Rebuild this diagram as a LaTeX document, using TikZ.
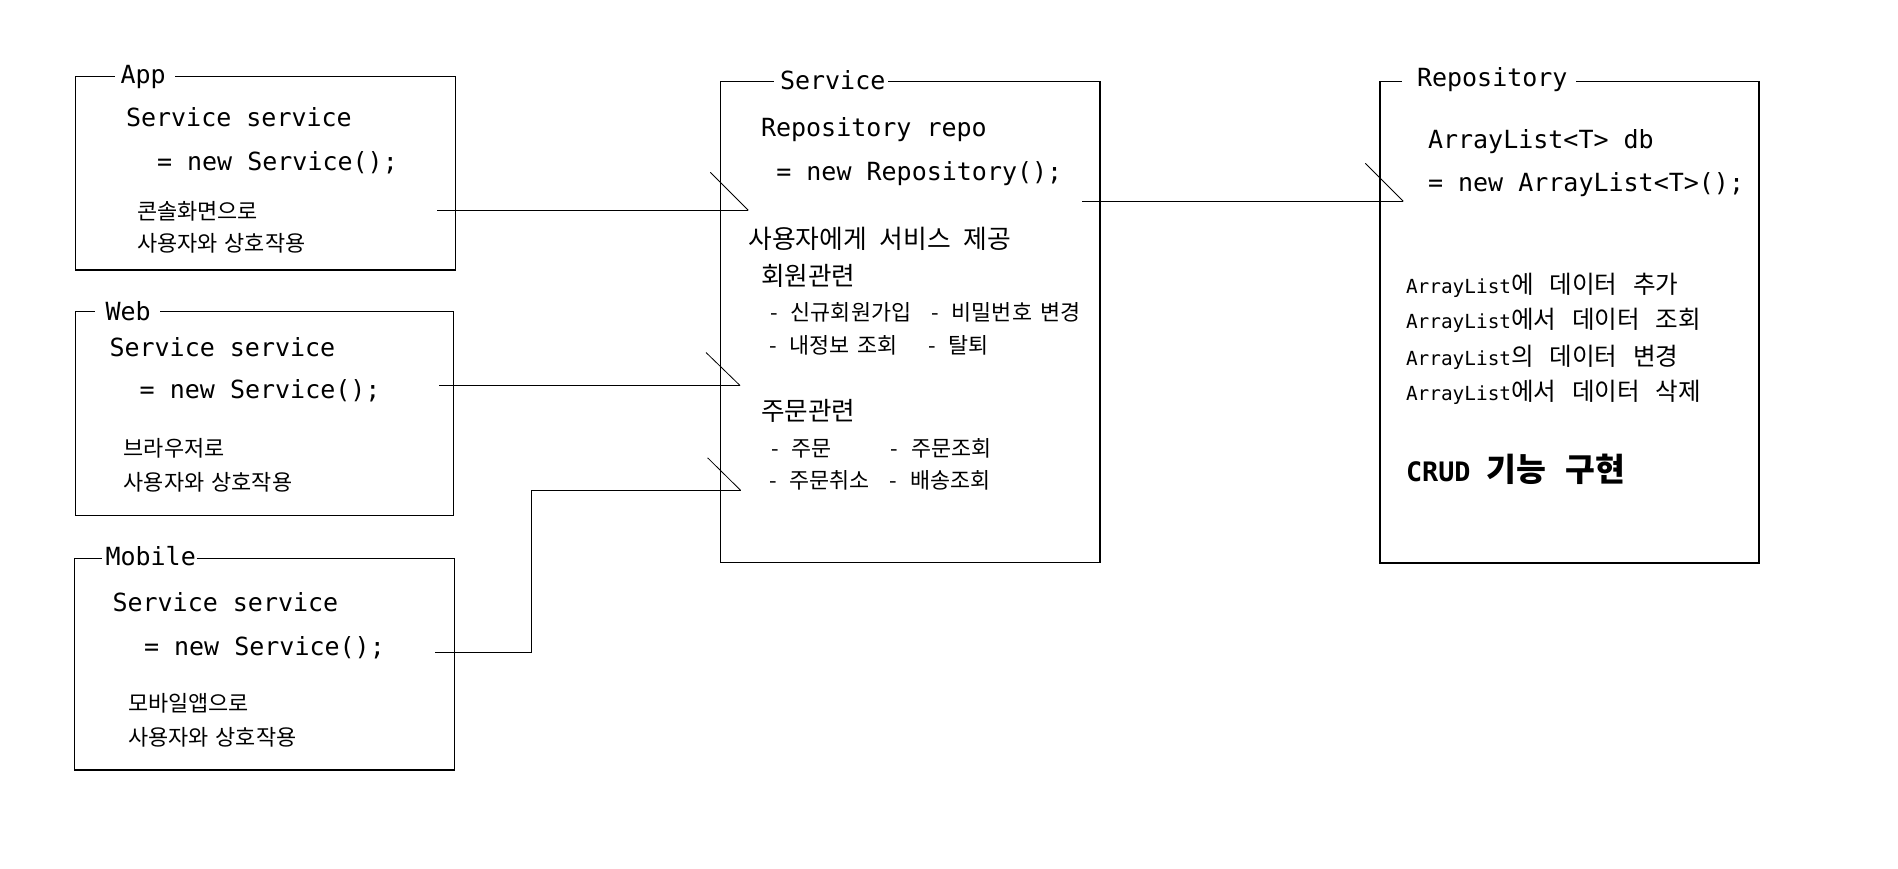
\documentclass[tikz,border=0pt]{standalone}
\usepackage{fontspec}
\newfontfamily\mono{DejaVu Sans Mono}
\newfontfamily\krf{Noto Sans CJK KR}
\newcommand\fsz[1]{\fontsize{#1}{#1}\selectfont}
\newcommand\codefont{\mono\fsz{12.5}}
\newcommand\kgap[1]{\hspace*{#1}}
\tikzset{
  txt/.style={anchor=base west, inner sep=0pt, outer sep=0pt},
  code/.style={txt, font=\codefont},
  kdesc/.style={txt, font=\krf\fsz{10.95}},
  ksvc/.style={txt, font=\krf\fsz{12.9}},
  khead/.style={txt, font=\krf\fsz{12.8}},
  kitem/.style={txt, font=\krf\fsz{10.9}},
  boxline/.style={line width=0.6pt, line join=miter},
  conn/.style={line width=0.5pt},
  tickline/.style={line width=0.4pt},
}
\newcommand\lat[1]{{\mono\fsz{9.7}#1}}
\newcommand\han[1]{{\krf\fsz{12.3}#1}}
\newcommand\dg{\kgap{3.6pt}}    % word gap, client descriptions
\newcommand\sg{\kgap{6.3pt}}    % word gap, service heading
\newcommand\ig{\kgap{4.2pt}}    % word gap, service items
\newcommand\dashg{\kgap{6.4pt}} % gap after dash
\newcommand\rg{\kgap{7.9pt}}    % word gap, repository lines
\begin{document}
\begin{tikzpicture}[x=0.5pt, y=-0.5pt]
\useasboundingbox (0,0) rectangle (1898,868);

% ---------- App ----------
\draw[boxline] (175,76.7) -- (455.7,76.7) -- (455.7,270) -- (75.7,270) -- (75.7,76.7) -- (115,76.7);
\node[code] (apptitle) at (120.5,83.3) {App};
\node[code] (appl1) at (126,126.7) {Service service};
\node[code] (appl2) at (157,170) {= new Service();};
\node[kdesc] (appd1) at (137,219.2) {콘솔화면으로};
\node[kdesc] (appd2) at (137,251.8) {사용자와\dg 상호작용};

% ---------- Web ----------
\draw[boxline] (160,311.7) -- (453.3,311.7) -- (453.3,515.7) -- (75.7,515.7) -- (75.7,311.7) -- (95,311.7);
\node[code] (webtitle) at (105.5,320) {Web};
\node[code] (webl1) at (109.5,356.7) {Service service};
\node[code] (webl2) at (139.7,398.3) {= new Service();};
\node[kdesc] (webd1) at (123.8,456.8) {브라우저로};
\node[kdesc] (webd2) at (123.8,490.2) {사용자와\dg 상호작용};

% ---------- Mobile ----------
\draw[boxline] (196.7,558.3) -- (454.3,558.3) -- (454.3,770) -- (74.3,770) -- (74.3,558.3) -- (101.7,558.3);
\node[code] (mobtitle) at (105.5,565) {Mobile};
\node[code] (mobl1) at (112.5,611.7) {Service service};
\node[code] (mobl2) at (144,655) {= new Service();};
\node[kdesc] (mobd1) at (128,711.8) {모바일앱으로};
\node[kdesc] (mobd2) at (128,745.2) {사용자와\dg 상호작용};

% ---------- Service ----------
\draw[boxline] (888.3,81.7) -- (1100,81.7) -- (1100,562.3) -- (720.7,562.3) -- (720.7,81.7) -- (774,81.7);
\node[code] (svctitle) at (780,89.3) {Service};
\node[code] (svcl1) at (761,136.7) {Repository repo};
\node[code] (svcl2) at (776.3,180) {= new Repository();};
\node[ksvc] (svchead) at (748.5,248.3) {사용자에게\sg 서비스\sg 제공};
\node[khead] (memhead) at (761,285.3) {회원관련};
\node[kitem] (mem1) at (770.5,320.5) {-\dashg 신규회원가입};
\node[kitem] (mem2) at (931.5,320.5) {-\dashg 비밀번호\ig 변경};
\node[kitem] (mem3) at (769,353.5) {-\dashg 내정보\ig 조회};
\node[kitem] (mem4) at (928.3,353.5) {-\dashg 탈퇴};
\node[khead] (ordhead) at (761,420.3) {주문관련};
\node[kitem] (ord1) at (771,456.5) {-\dashg 주문};
\node[kitem] (ord2) at (890.7,456.5) {-\dashg 주문조회};
\node[kitem] (ord3) at (769,488.5) {-\dashg 주문취소};
\node[kitem] (ord4) at (889.7,488.5) {-\dashg 배송조회};

% ---------- Repository ----------
\draw[boxline] (1576,81.7) -- (1759,81.7) -- (1759,563) -- (1380,563) -- (1380,81.7) -- (1401.7,81.7);
\node[code] (repotitle) at (1417,86.7) {Repository};
\node[code] (repol1) at (1428,148.3) {ArrayList<T> db};
\node[code] (repol2) at (1428,191.7) {= new ArrayList<T>();};
\node[txt] (rd1) at (1406,293.3) {\lat{ArrayList}\han{에\rg 데이터\rg 추가}};
\node[txt] (rd2) at (1406,328.3) {\lat{ArrayList}\han{에서\rg 데이터\rg 조회}};
\node[txt] (rd3) at (1406,365) {\lat{ArrayList}\han{의\rg 데이터\rg 변경}};
\node[txt] (rd4) at (1406,400) {\lat{ArrayList}\han{에서\rg 데이터\rg 삭제}};
\node[txt] (crud) at (1406,481.7) {{\mono\bfseries\fsz{13.4}CRUD }{\krf\bfseries\fsz{16.2}기능\kgap{9.7pt}구현}};

% ---------- connectors ----------
\coordinate (appout) at (437.3,210.3);
\coordinate (appin) at (748.3,210.3);
\coordinate (webout) at (439.3,385.5);
\coordinate (webin) at (740,385.5);
\coordinate (mobout) at (435,652.7);
\coordinate (mobbend) at (531,490.3);
\coordinate (mobin) at (740.6,490.3);
\coordinate (svcout) at (1082.3,201.3);
\coordinate (repoin) at (1403.3,201.3);

\draw[conn] (appout) -- (appin);
\draw[tickline] (appin) -- ++(-38,-38);
\draw[conn] (webout) -- (webin);
\draw[tickline] (webin) -- ++(-34,-33);
\draw[conn] (mobout) -| (mobbend) -- (mobin);
\draw[tickline] (mobin) -- ++(-33,-32.5);
\draw[conn] (svcout) -- (repoin);
\draw[tickline] (repoin) -- ++(-38,-38);
\end{tikzpicture}
\end{document}
